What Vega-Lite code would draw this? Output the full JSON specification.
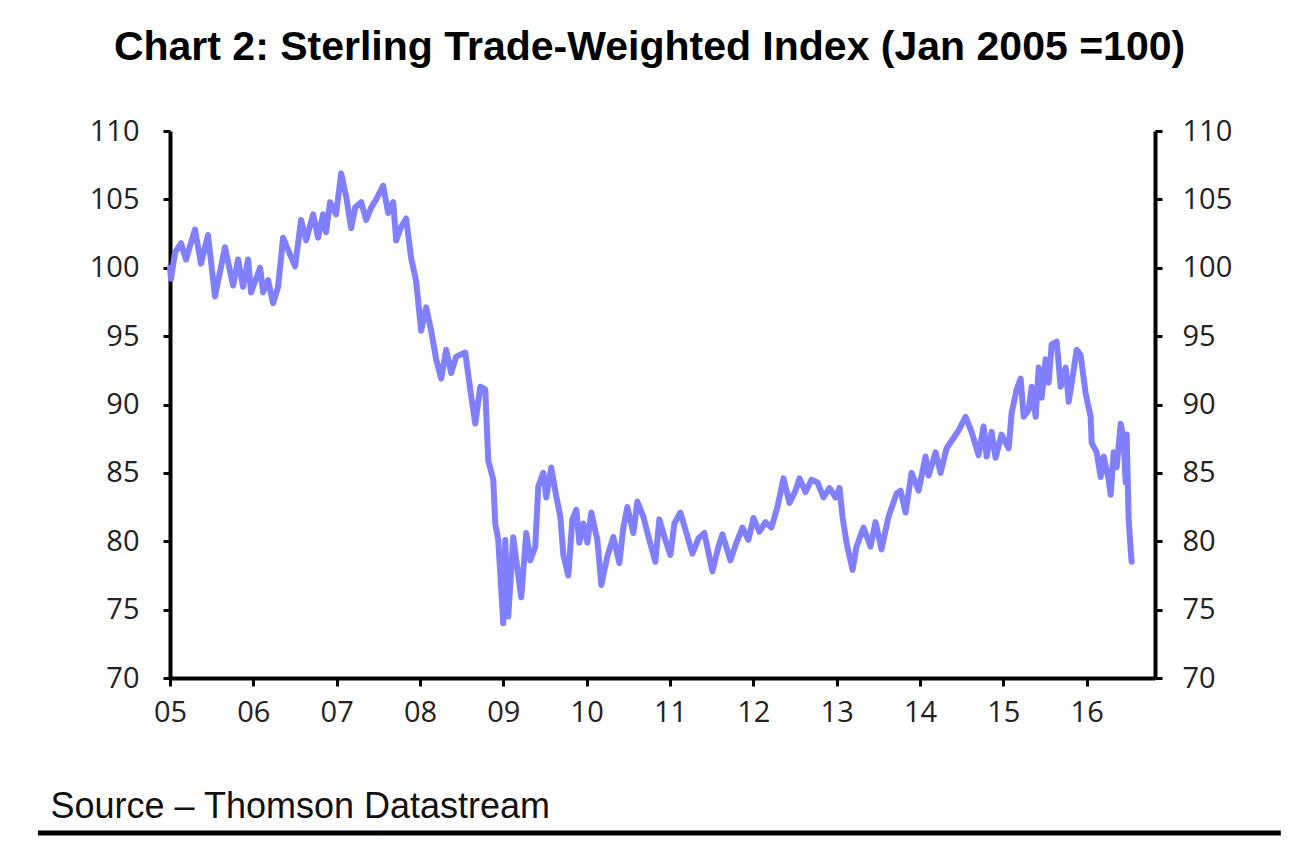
{
  "$schema": "https://vega.github.io/schema/vega-lite/v6.json",
  "width": 985,
  "height": 547,
  "autosize": {"type": "none"},
  "padding": {"left": 170, "top": 131, "right": 155, "bottom": 168},
  "background": "white",
  "config": {"view": {"stroke": null}},
  "title": {
    "text": "Chart 2: Sterling Trade-Weighted Index (Jan 2005 =100)",
    "font": "Liberation Sans",
    "fontSize": 41,
    "fontWeight": "bold",
    "color": "black",
    "anchor": "middle",
    "dx": -13,
    "offset": 48
  },
  "data": {"values": [
    {"t": 2005.000, "v": 100.0}, {"t": 2005.012, "v": 99.2}, {"t": 2005.060, "v": 101.1}, {"t": 2005.132, "v": 101.8},
    {"t": 2005.192, "v": 100.6}, {"t": 2005.300, "v": 102.8}, {"t": 2005.372, "v": 100.3}, {"t": 2005.456, "v": 102.4},
    {"t": 2005.540, "v": 97.9}, {"t": 2005.660, "v": 101.5}, {"t": 2005.757, "v": 98.7}, {"t": 2005.817, "v": 100.6},
    {"t": 2005.877, "v": 98.6}, {"t": 2005.937, "v": 100.6}, {"t": 2005.973, "v": 98.2}, {"t": 2006.081, "v": 100.0},
    {"t": 2006.117, "v": 98.2}, {"t": 2006.177, "v": 99.1}, {"t": 2006.237, "v": 97.4}, {"t": 2006.297, "v": 98.6},
    {"t": 2006.357, "v": 102.2}, {"t": 2006.417, "v": 101.3}, {"t": 2006.501, "v": 100.1}, {"t": 2006.573, "v": 103.5},
    {"t": 2006.633, "v": 102.0}, {"t": 2006.717, "v": 103.9}, {"t": 2006.777, "v": 102.2}, {"t": 2006.837, "v": 103.9},
    {"t": 2006.873, "v": 102.6}, {"t": 2006.921, "v": 104.8}, {"t": 2006.993, "v": 103.9}, {"t": 2007.054, "v": 106.9},
    {"t": 2007.114, "v": 105.2}, {"t": 2007.174, "v": 102.9}, {"t": 2007.222, "v": 104.4}, {"t": 2007.294, "v": 104.8},
    {"t": 2007.354, "v": 103.5}, {"t": 2007.414, "v": 104.4}, {"t": 2007.474, "v": 105.0}, {"t": 2007.558, "v": 106.0},
    {"t": 2007.618, "v": 104.0}, {"t": 2007.678, "v": 104.8}, {"t": 2007.714, "v": 102.0}, {"t": 2007.774, "v": 103.0},
    {"t": 2007.834, "v": 103.6}, {"t": 2007.894, "v": 100.7}, {"t": 2007.954, "v": 99.0}, {"t": 2008.014, "v": 95.4},
    {"t": 2008.074, "v": 97.1}, {"t": 2008.134, "v": 95.4}, {"t": 2008.194, "v": 93.3}, {"t": 2008.254, "v": 91.9},
    {"t": 2008.314, "v": 94.0}, {"t": 2008.374, "v": 92.3}, {"t": 2008.434, "v": 93.5}, {"t": 2008.543, "v": 93.8},
    {"t": 2008.603, "v": 91.1}, {"t": 2008.663, "v": 88.6}, {"t": 2008.723, "v": 91.3}, {"t": 2008.783, "v": 91.1},
    {"t": 2008.819, "v": 85.9}, {"t": 2008.879, "v": 84.5}, {"t": 2008.903, "v": 81.3}, {"t": 2008.939, "v": 80.1},
    {"t": 2008.999, "v": 74.0}, {"t": 2009.023, "v": 80.1}, {"t": 2009.059, "v": 74.5}, {"t": 2009.119, "v": 80.3},
    {"t": 2009.155, "v": 78.6}, {"t": 2009.215, "v": 75.9}, {"t": 2009.275, "v": 80.6}, {"t": 2009.323, "v": 78.6},
    {"t": 2009.383, "v": 79.6}, {"t": 2009.419, "v": 84.0}, {"t": 2009.479, "v": 85.0}, {"t": 2009.515, "v": 83.2},
    {"t": 2009.575, "v": 85.4}, {"t": 2009.635, "v": 83.3}, {"t": 2009.684, "v": 81.8}, {"t": 2009.720, "v": 79.0},
    {"t": 2009.780, "v": 77.5}, {"t": 2009.828, "v": 81.6}, {"t": 2009.876, "v": 82.3}, {"t": 2009.912, "v": 79.9},
    {"t": 2009.960, "v": 81.3}, {"t": 2010.008, "v": 79.9}, {"t": 2010.056, "v": 82.1}, {"t": 2010.128, "v": 80.1},
    {"t": 2010.176, "v": 76.8}, {"t": 2010.248, "v": 78.9}, {"t": 2010.320, "v": 80.3}, {"t": 2010.392, "v": 78.4},
    {"t": 2010.440, "v": 81.0}, {"t": 2010.488, "v": 82.5}, {"t": 2010.560, "v": 80.6}, {"t": 2010.608, "v": 82.9},
    {"t": 2010.680, "v": 81.8}, {"t": 2010.752, "v": 80.1}, {"t": 2010.824, "v": 78.5}, {"t": 2010.872, "v": 81.6},
    {"t": 2010.944, "v": 80.1}, {"t": 2011.005, "v": 79.0}, {"t": 2011.053, "v": 81.3}, {"t": 2011.125, "v": 82.1},
    {"t": 2011.197, "v": 80.6}, {"t": 2011.269, "v": 79.1}, {"t": 2011.341, "v": 80.2}, {"t": 2011.413, "v": 80.6},
    {"t": 2011.509, "v": 77.8}, {"t": 2011.581, "v": 79.6}, {"t": 2011.629, "v": 80.5}, {"t": 2011.725, "v": 78.6},
    {"t": 2011.797, "v": 79.9}, {"t": 2011.869, "v": 81.0}, {"t": 2011.941, "v": 80.1}, {"t": 2012.001, "v": 81.7},
    {"t": 2012.073, "v": 80.7}, {"t": 2012.145, "v": 81.4}, {"t": 2012.217, "v": 81.0}, {"t": 2012.289, "v": 82.5},
    {"t": 2012.362, "v": 84.6}, {"t": 2012.434, "v": 82.8}, {"t": 2012.506, "v": 83.7}, {"t": 2012.554, "v": 84.6},
    {"t": 2012.626, "v": 83.6}, {"t": 2012.698, "v": 84.5}, {"t": 2012.770, "v": 84.3}, {"t": 2012.842, "v": 83.2},
    {"t": 2012.914, "v": 83.9}, {"t": 2012.986, "v": 83.2}, {"t": 2013.034, "v": 83.9}, {"t": 2013.070, "v": 81.8},
    {"t": 2013.118, "v": 79.9}, {"t": 2013.190, "v": 77.9}, {"t": 2013.238, "v": 79.6}, {"t": 2013.322, "v": 81.0},
    {"t": 2013.406, "v": 79.6}, {"t": 2013.466, "v": 81.4}, {"t": 2013.538, "v": 79.4}, {"t": 2013.622, "v": 81.8},
    {"t": 2013.719, "v": 83.5}, {"t": 2013.767, "v": 83.7}, {"t": 2013.827, "v": 82.1}, {"t": 2013.899, "v": 85.0},
    {"t": 2013.983, "v": 83.7}, {"t": 2014.067, "v": 86.2}, {"t": 2014.103, "v": 84.8}, {"t": 2014.187, "v": 86.5},
    {"t": 2014.247, "v": 85.0}, {"t": 2014.319, "v": 86.8}, {"t": 2014.463, "v": 88.1}, {"t": 2014.547, "v": 89.1},
    {"t": 2014.619, "v": 88.0}, {"t": 2014.703, "v": 86.3}, {"t": 2014.763, "v": 88.4}, {"t": 2014.799, "v": 86.2},
    {"t": 2014.859, "v": 88.0}, {"t": 2014.907, "v": 86.1}, {"t": 2014.979, "v": 87.8}, {"t": 2015.064, "v": 86.8},
    {"t": 2015.100, "v": 89.4}, {"t": 2015.160, "v": 91.1}, {"t": 2015.208, "v": 91.9}, {"t": 2015.244, "v": 89.1},
    {"t": 2015.304, "v": 89.6}, {"t": 2015.340, "v": 91.3}, {"t": 2015.388, "v": 89.1}, {"t": 2015.424, "v": 92.7},
    {"t": 2015.460, "v": 90.5}, {"t": 2015.508, "v": 93.3}, {"t": 2015.544, "v": 91.6}, {"t": 2015.580, "v": 94.4},
    {"t": 2015.640, "v": 94.6}, {"t": 2015.688, "v": 91.3}, {"t": 2015.748, "v": 92.7}, {"t": 2015.784, "v": 90.2},
    {"t": 2015.844, "v": 92.5}, {"t": 2015.880, "v": 94.0}, {"t": 2015.928, "v": 93.6}, {"t": 2015.988, "v": 90.8},
    {"t": 2016.048, "v": 89.1}, {"t": 2016.060, "v": 87.2}, {"t": 2016.120, "v": 86.5}, {"t": 2016.168, "v": 84.7},
    {"t": 2016.204, "v": 86.2}, {"t": 2016.264, "v": 84.5}, {"t": 2016.288, "v": 83.4}, {"t": 2016.324, "v": 86.5},
    {"t": 2016.360, "v": 85.4}, {"t": 2016.408, "v": 88.6}, {"t": 2016.444, "v": 87.4}, {"t": 2016.468, "v": 84.3},
    {"t": 2016.480, "v": 87.8}, {"t": 2016.504, "v": 81.6}, {"t": 2016.528, "v": 79.4}, {"t": 2016.540, "v": 78.5}
  ]},
  "resolve": {"axis": {"x": "independent", "y": "independent"}},
  "layer": [
    {
      "mark": {"type": "line", "color": "#8080FF", "strokeWidth": 6, "strokeJoin": "round", "strokeCap": "round"},
      "encoding": {
        "x": {
          "field": "t", "type": "quantitative",
          "scale": {"domain": [2005, 2016.82], "nice": false, "zero": false},
          "axis": {
            "values": [2005, 2006, 2007, 2008, 2009, 2010, 2011, 2012, 2013, 2014, 2015, 2016],
            "labelExpr": "substring(toString(datum.value), 2, 4)",
            "grid": false,
            "domainColor": "black", "domainWidth": 4,
            "tickColor": "black", "tickWidth": 3, "tickSize": 8,
            "labelFont": "Open Sans", "labelFontSize": 29, "labelColor": "#222222", "labelPadding": 12,
            "labelFlush": false, "labelOverlap": false,
            "title": "Source – Thomson Datastream",
            "titleFont": "Liberation Sans", "titleFontSize": 36, "titleFontWeight": "normal", "titleColor": "#111111",
            "titleAnchor": "start", "titleAlign": "left", "titleBaseline": "alphabetic",
            "titleX": -120, "titleY": 139
          }
        },
        "y": {
          "field": "v", "type": "quantitative",
          "scale": {"domain": [70, 110], "nice": false, "zero": false},
          "axis": {
            "orient": "left",
            "values": [70, 75, 80, 85, 90, 95, 100, 105, 110],
            "grid": false, "title": null,
            "domainColor": "black", "domainWidth": 4,
            "tickColor": "black", "tickWidth": 3, "tickSize": 7,
            "labelFont": "Open Sans", "labelFontSize": 29, "labelColor": "#222222", "labelPadding": 24,
            "labelFlush": false, "labelOverlap": false
          }
        }
      }
    },
    {
      "mark": {"type": "line", "strokeOpacity": 0},
      "encoding": {
        "x": {"field": "t", "type": "quantitative", "scale": {"domain": [2005, 2016.82], "nice": false, "zero": false}, "axis": null},
        "y": {
          "field": "v", "type": "quantitative",
          "scale": {"domain": [70, 110], "nice": false, "zero": false},
          "axis": {
            "orient": "right",
            "values": [70, 75, 80, 85, 90, 95, 100, 105, 110],
            "grid": false, "title": null,
            "domainColor": "black", "domainWidth": 4,
            "tickColor": "black", "tickWidth": 3, "tickSize": 7,
            "labelFont": "Open Sans", "labelFontSize": 29, "labelColor": "#222222", "labelPadding": 20,
            "labelFlush": false, "labelOverlap": false
          }
        }
      }
    },
    {
      "data": {"values": [{"x0": 2003.415, "x1": 2018.33}]},
      "mark": {"type": "rule", "color": "black", "strokeWidth": 5},
      "encoding": {
        "x": {"field": "x0", "type": "quantitative", "scale": {"domain": [2005, 2016.82], "nice": false, "zero": false}, "axis": null},
        "x2": {"field": "x1"},
        "y": {"datum": 58.67, "type": "quantitative", "scale": {"domain": [70, 110], "nice": false, "zero": false}, "axis": null}
      }
    }
  ]
}
